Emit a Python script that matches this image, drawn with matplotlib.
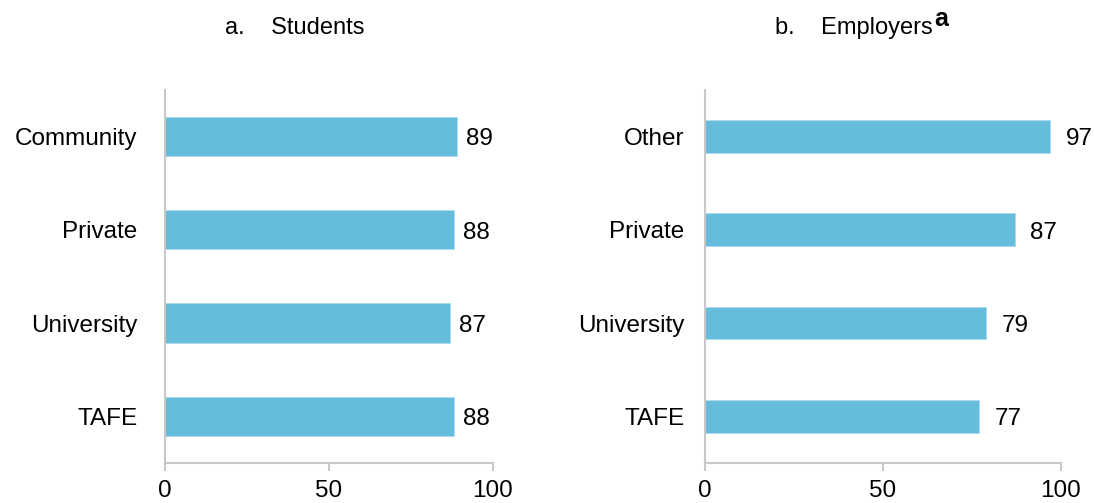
import matplotlib.pyplot as plt

plt.rcParams['font.family'] = ['Liberation Sans', 'DejaVu Sans']

students_cats = ["TAFE", "University", "Private", "Community"]
students_vals = [88, 87, 88, 89]

employers_cats = ["TAFE", "University", "Private", "Other"]
employers_vals = [77, 79, 87, 97]

xticks = [0, 50, 100]

bar_color = "#66bcdb"
grey = "#c8c8c8"
fs = 17.5

fig = plt.figure(figsize=(10.94, 5.03), dpi=100)
ax1 = fig.add_axes([0.1508, 0.0795, 0.2998, 0.742])
ax2 = fig.add_axes([0.6444, 0.0795, 0.3254, 0.742])


def panel(ax, cats, vals, h, lab_off, ypad):
    pos = range(len(cats))
    ax.barh(pos, vals, height=h, color=bar_color, edgecolor="#a9dcef", linewidth=0.6)
    for p, v in zip(pos, vals):
        ax.annotate(str(v), (v, p), xytext=(lab_off, -2), textcoords="offset points",
                    ha="left", va="center", fontsize=fs)
    ax.set_xlim(0, 100)
    ax.set_ylim(-0.5, len(cats) - 0.5)
    ax.set_xticks(xticks)
    ax.set_yticks(list(pos))
    ax.set_yticklabels(cats)
    for s in ["top", "right"]:
        ax.spines[s].set_visible(False)
    for s in ["left", "bottom"]:
        ax.spines[s].set_color(grey)
        ax.spines[s].set_linewidth(1.5)
    ax.tick_params(axis="x", length=6, width=1.5, color=grey, labelsize=fs, pad=6)
    ax.tick_params(axis="y", length=0, labelsize=fs, pad=ypad)


panel(ax1, students_cats, students_vals, 0.42, 6.5, 20)
panel(ax2, employers_cats, employers_vals, 0.35, 11, 15)

fig.text(0.333, 0.945, "a.    Students", ha="right", va="center", fontsize=17)
fig.text(0.853, 0.945, "b.    Employers", ha="right", va="center", fontsize=17)
fig.text(0.854, 0.962, "a", ha="left", va="center", fontsize=18, fontweight="bold")

fig.savefig("out.png", dpi=100)
